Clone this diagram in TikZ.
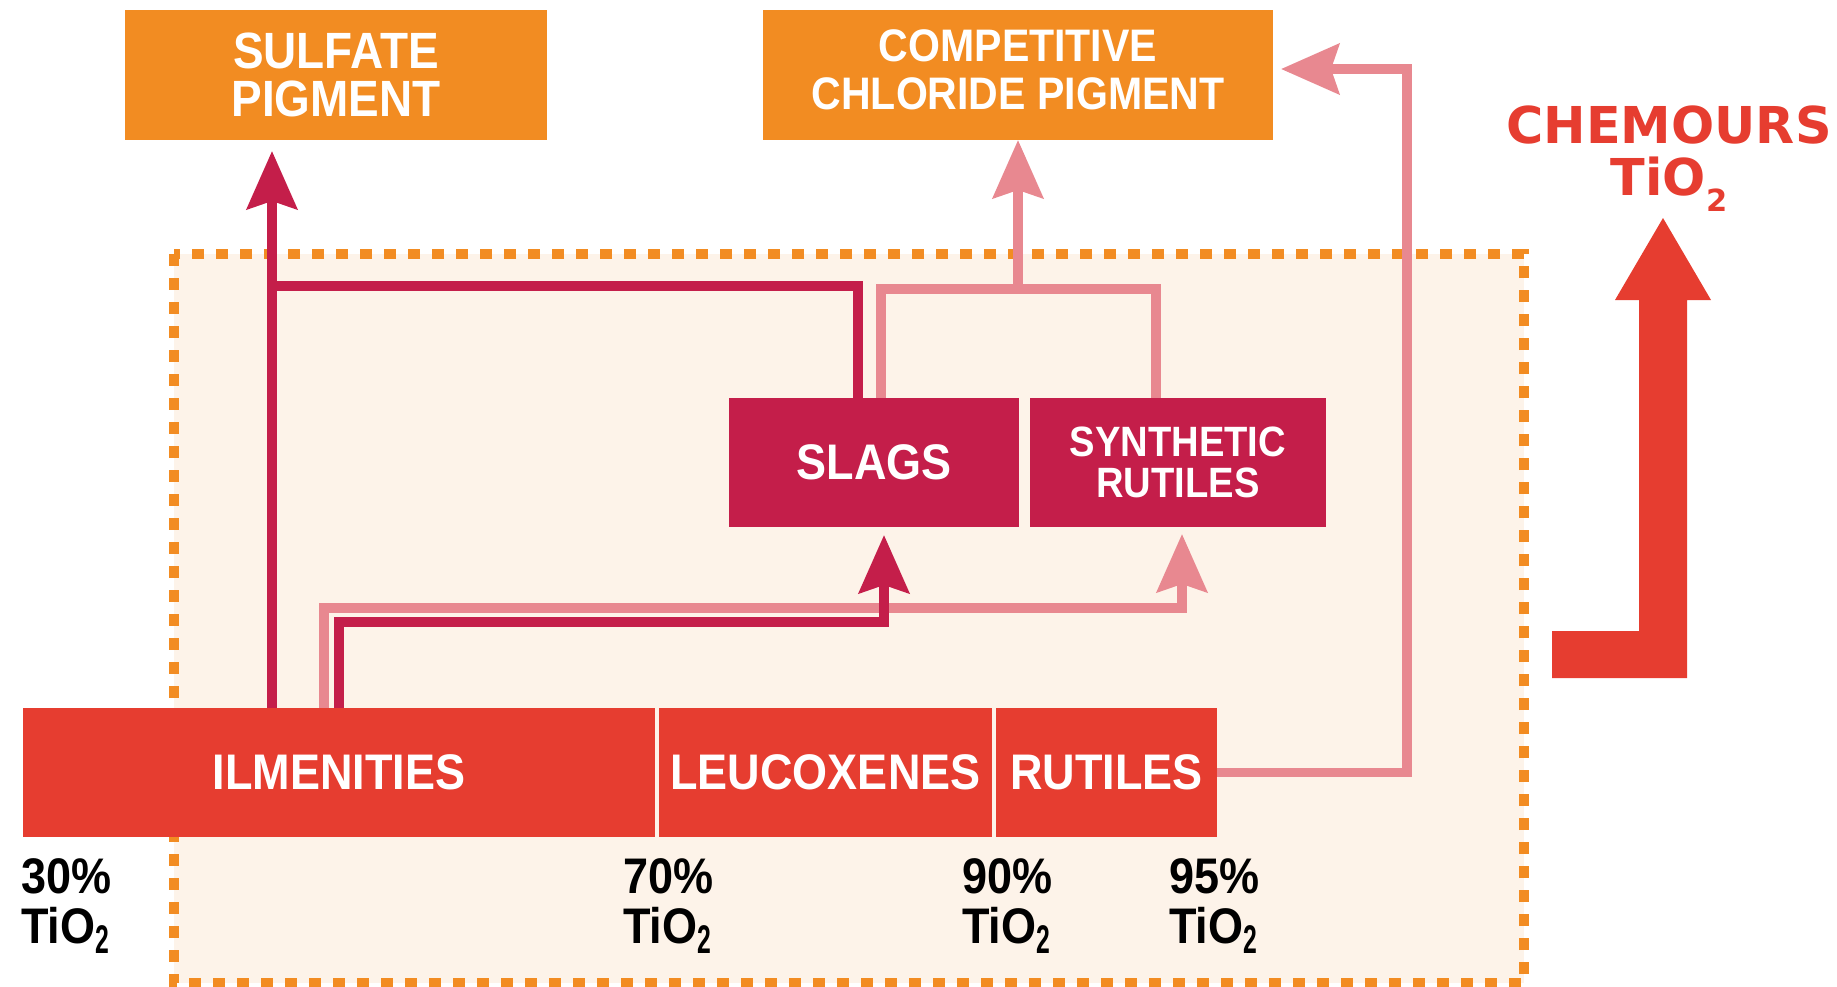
\documentclass[tikz,border=0pt]{standalone}
\usepackage{fontspec}
\newfontfamily\boxfont[FakeStretch=0.9]{Liberation Sans}
\newfontfamily\brandfont{DejaVu Sans}
\usetikzlibrary{arrows.meta,positioning,calc}
\newcommand{\oretwo}{\raisebox{-0.2em}{\scalebox{0.55}[0.8]{2}}}
\newcommand{\brandtwo}{\raisebox{-0.31em}{\scalebox{0.6}{2}}}

\begin{document}
\begin{tikzpicture}[x=0.5pt, y=-0.5pt,
	%Option for nice arrows
	>={Stealth[length=29pt, width=25pt, inset=4pt]}, %
	inner sep=0pt, outer sep=0pt,%
	pigment/.style={fill=pigmentorange, text=white, align=center, anchor=north west,
		minimum height=65pt, font=\boxfont\bfseries\fontsize{25.5}{24}\selectfont},
	feed/.style={fill=slagred, text=white, align=center, minimum height=64.5pt,
		font=\boxfont\bfseries\fontsize{25}{24}\selectfont},
	ore/.style={fill=orered, text=white, minimum height=64.5pt,
		font=\boxfont\bfseries\fontsize{25}{24}\selectfont},
	grade/.style={anchor=north west, align=left,
		font=\boxfont\bfseries\fontsize{25}{24.8}\selectfont},
	flow/.style={line width=4.8pt, color=#1},
	]
	% Colors
	\definecolor{pigmentorange}{RGB}{242,140,34}
	\definecolor{slagred}{RGB}{196,30,74}
	\definecolor{orered}{RGB}{230,61,48}
	\definecolor{flowpink}{RGB}{232,136,144}
	\definecolor{framecream}{RGB}{253,243,233}
	
	\useasboundingbox (0,0) rectangle (1837,986);
	
	% Frame
	\draw[draw=pigmentorange, fill=framecream, line width=4.8pt, dash pattern=on 6pt off 6pt]
	(174,254) rectangle (1524,983);
	
	% Pigments
	\node[pigment, minimum width=211pt] (sulfate) at (125,10) {SULFATE\\PIGMENT};
	\node[pigment, minimum width=255pt, text depth=5pt,
	font=\boxfont\bfseries\fontsize{22.8}{24}\selectfont]
	(chloride) at (763,10) {COMPETITIVE\\CHLORIDE PIGMENT};
	
	% Upgraded feedstocks
	\node[feed, anchor=north west, minimum width=145pt] (slags) at (729,398) {SLAGS};
	\node[feed, right=5.5pt of slags, minimum width=148pt,
	font=\boxfont\bfseries\fontsize{21.2}{20.5}\selectfont] (synth) {SYNTHETIC\\RUTILES};
	
	% Ores
	\node[ore, anchor=north west, minimum width=316pt] (ilm) at (23,708) {ILMENITIES};
	\node[ore, right=2pt of ilm, minimum width=166.5pt] (leu) {LEUCOXENES};
	\node[ore, right=2pt of leu, minimum width=110.5pt] (rut) {RUTILES};
	
	% Grades
	\node[grade] (g30) at (21,859)   {30\%\\TiO\oretwo};
	\node[grade] (g70) at (623,859)  {70\%\\TiO\oretwo};
	\node[grade] (g90) at (962,859)  {90\%\\TiO\oretwo};
	\node[grade] (g95) at (1169,859) {95\%\\TiO\oretwo};
	
	% Chemours
	\node[anchor=north, align=center, text=orered,
	font=\brandfont\bfseries\fontsize{25.4}{26}\selectfont] (brand) at (1669,106)
	{CHEMOURS\\TiO\brandtwo};
	\fill[orered] (1552,631) -- (1639,631) -- (1639,300) -- (1615,300) -- (1663,218)
	-- (1711,300) -- (1687,300) -- (1687,678) -- (1552,678) -- cycle;
	
	% Turning points
	\coordinate (sulfrise)  at (272,0);
	\coordinate (slagbus)   at (272,286);
	\coordinate (chlorbus)  at ($(chloride.south)+(0,149)$);
	\coordinate (synthturn) at (1182,608);
	\coordinate (slagturn)  at (884,622);
	\coordinate (rutrise)   at (1407,69);
	
	% Ilmenite to sulfate pigment and slags
	\draw[flow=slagred, ->, shorten >=5.5pt] (sulfrise |- ilm.north) -- (sulfrise |- sulfate.south);
	\draw[flow=slagred] (slagbus) -| ($(slags.north west)+(129,0)$);
	
	% Slags and synthetic rutiles to chloride pigment
	\draw[flow=flowpink] ($(slags.north west)+(152,0)$) |- (chlorbus)
	-| ($(synth.north west)+(126,0)$);
	\draw[flow=flowpink, ->] (chlorbus) -- (chloride.south);
	
	% Ilmenite upgrading
	\draw[flow=flowpink, ->, shorten >=3.5pt] ($(ilm.north)+(-15,0)$) |- (synthturn)
	-- (synthturn |- synth.south);
	\draw[flow=slagred, ->, shorten >=4pt] (ilm.north) |- (slagturn) -- (slagturn |- slags.south);
	
	% Rutile straight to chloride pigment
	\draw[flow=flowpink, ->, shorten >=4pt] (rut.east) -| (rutrise) -- (rutrise -| chloride.east);
\end{tikzpicture}
\end{document}
